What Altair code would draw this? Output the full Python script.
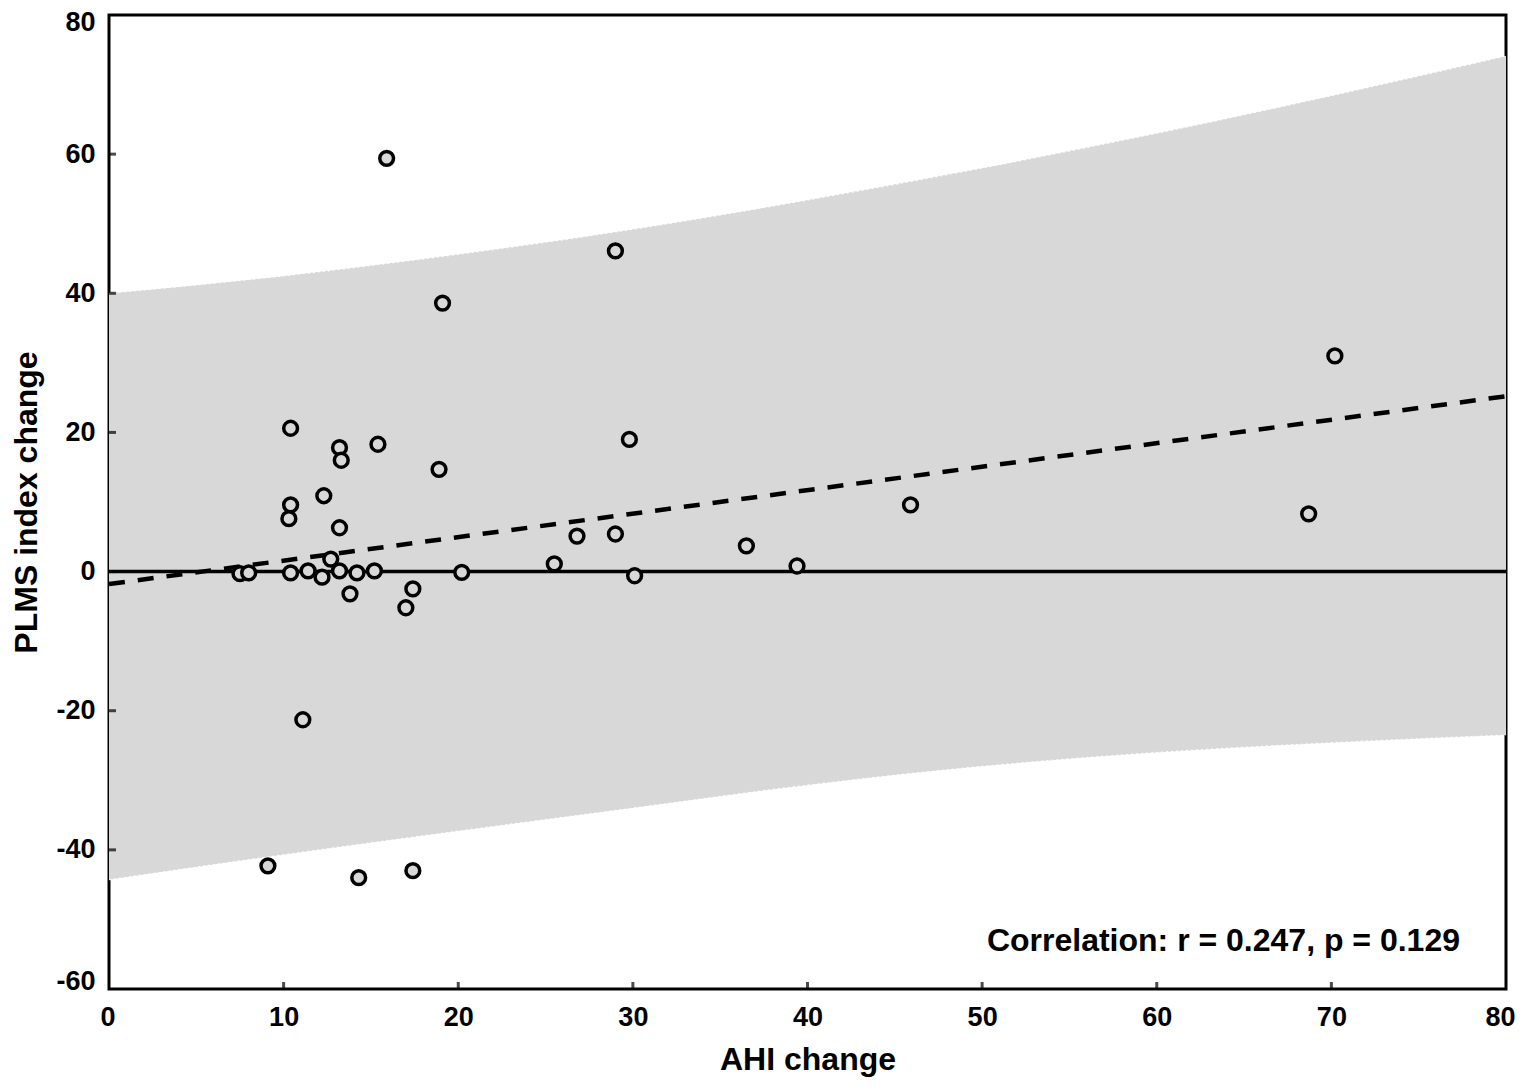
import altair as alt
import pandas as pd

# Scatter points
ahi_change = [15.9, 29.0, 19.1, 70.2, 10.4, 13.2, 13.3, 15.4, 29.8, 18.9,
              10.4, 10.3, 12.3, 13.2, 45.9, 68.7, 29.0, 26.8, 36.5, 25.5,
              39.4, 12.7, 7.5, 8.0, 10.4, 11.4, 12.2, 13.2, 14.2, 15.2,
              20.2, 30.1, 13.8, 17.4, 17.0, 11.1, 9.1, 14.3, 17.4]
plms_change = [59.4, 46.1, 38.6, 31.0, 20.6, 17.8, 16.0, 18.3, 19.0, 14.7,
               9.6, 7.6, 10.9, 6.3, 9.6, 8.3, 5.4, 5.1, 3.7, 1.1,
               0.8, 1.8, -0.3, -0.2, -0.2, 0.1, -0.8, 0.1, -0.2, 0.1,
               -0.1, -0.6, -3.2, -2.5, -5.2, -21.3, -42.3, -44.0, -43.0]

# Prediction band edges
band_x = [0, 10, 20, 30, 40, 50, 60, 70, 80]
band_upper = [40.0, 42.5, 45.6, 49.2, 53.4, 58.0, 63.0, 68.4, 74.1]
band_lower = [-44.3, -40.7, -37.3, -34.0, -30.7, -28.0, -26.0, -24.6, -23.5]

# Regression line end points
trend_x = [0, 80]
trend_y = [-1.8, 25.2]

x_ticks = [0, 10, 20, 30, 40, 50, 60, 70, 80]
y_ticks = [-60, -40, -20, 0, 20, 40, 60, 80]
inner_x_ticks = [10, 20, 30, 40, 50, 60, 70]
inner_y_ticks = [-40, -20, 0, 20, 40, 60]

annotation = "Correlation: r = 0.247, p = 0.129"

FONT = "Liberation Sans"

pts = pd.DataFrame({"ahi": ahi_change, "plms": plms_change})
band = pd.DataFrame({"ahi": band_x, "up": band_upper, "lo": band_lower})
trend = pd.DataFrame({"ahi": trend_x, "plms": trend_y})
zero = pd.DataFrame({"plms": [0]})
xt = pd.DataFrame({"ahi": inner_x_ticks, "plms": [-60] * len(inner_x_ticks)})
yt = pd.DataFrame({"ahi": [0] * len(inner_y_ticks), "plms": inner_y_ticks})
txt = pd.DataFrame({"t": [annotation]})

xscale = alt.Scale(domain=[0, 80], nice=False, zero=False)
yscale = alt.Scale(domain=[-60, 80], nice=False, zero=False)

hyphen_labels = "datum.value < 0 ? '-' + abs(datum.value) : '' + datum.value"

xaxis = alt.Axis(values=x_ticks, title="AHI change", grid=False, ticks=False,
                 domain=False, labelPadding=15, titlePadding=14,
                 labelExpr=hyphen_labels, labelFlush=True, labelFlushOffset=9)
yaxis = alt.Axis(values=y_ticks, title="PLMS index change", grid=False, ticks=False,
                 domain=False, labelPadding=14, titlePadding=12,
                 labelExpr=hyphen_labels, labelFlush=True, labelFlushOffset=6)

band_layer = alt.Chart(band).mark_area(color="#d8d8d8", opacity=1, interpolate="monotone").encode(
    x=alt.X("ahi:Q", scale=xscale, axis=xaxis),
    y=alt.Y("up:Q", scale=yscale, axis=yaxis),
    y2="lo:Q",
)

edge_up = alt.Chart(band).mark_line(color="white", strokeWidth=1.2, strokeDash=[2, 3],
                                    interpolate="monotone").encode(
    x=alt.X("ahi:Q", scale=xscale),
    y=alt.Y("up:Q", scale=yscale),
)
edge_lo = alt.Chart(band).mark_line(color="white", strokeWidth=1.2, strokeDash=[2, 3],
                                    interpolate="monotone").encode(
    x=alt.X("ahi:Q", scale=xscale),
    y=alt.Y("lo:Q", scale=yscale),
)

zero_layer = alt.Chart(zero).mark_rule(color="black", strokeWidth=3.5).encode(
    y=alt.Y("plms:Q", scale=yscale)
)

trend_layer = alt.Chart(trend).mark_line(color="black", strokeWidth=4.5, strokeDash=[16, 13]).encode(
    x=alt.X("ahi:Q", scale=xscale),
    y=alt.Y("plms:Q", scale=yscale),
)

pt_layer = alt.Chart(pts).mark_point(shape="circle", filled=False, fill="#d8d8d8",
                                     stroke="black", strokeWidth=3.5, size=190, opacity=1).encode(
    x=alt.X("ahi:Q", scale=xscale),
    y=alt.Y("plms:Q", scale=yscale),
)

xtick_layer = alt.Chart(xt).mark_tick(orient="vertical", size=14, thickness=3,
                                      color="black", clip=True).encode(
    x=alt.X("ahi:Q", scale=xscale),
    y=alt.Y("plms:Q", scale=yscale),
)
ytick_layer = alt.Chart(yt).mark_tick(orient="horizontal", size=14, thickness=3,
                                      color="black", clip=True).encode(
    x=alt.X("ahi:Q", scale=xscale),
    y=alt.Y("plms:Q", scale=yscale),
)

text_layer = alt.Chart(txt).mark_text(align="right", baseline="middle", font=FONT,
                                      fontWeight="bold", fontSize=32, color="black").encode(
    x=alt.value(1351), y=alt.value(926), text="t:N"
)

chart = alt.layer(
    band_layer, edge_up, edge_lo, zero_layer, trend_layer, pt_layer,
    xtick_layer, ytick_layer, text_layer
).properties(
    width=1397, height=974,
    background="white",
    autosize=alt.AutoSizeParams(type="none"),
    padding={"left": 101, "top": 7, "right": 10, "bottom": 92},
).configure_view(
    stroke="black", strokeWidth=3
).configure_axis(
    labelFont=FONT, labelFontWeight="bold", labelFontSize=27, labelColor="black",
    titleFont=FONT, titleFontWeight="bold", titleFontSize=32, titleColor="black",
)

chart.save("out.html", embed_options={"renderer": "svg", "actions": False})
